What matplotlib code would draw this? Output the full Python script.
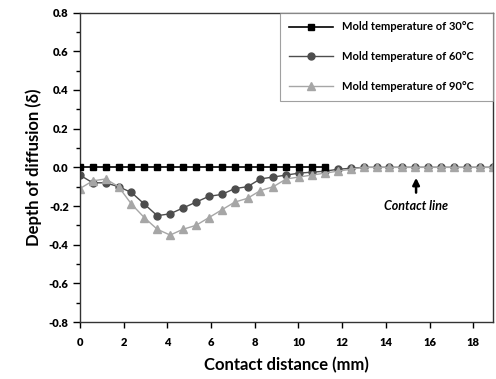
import matplotlib.pyplot as plt
from matplotlib.ticker import MultipleLocator, FormatStrFormatter

plt.rcParams['font.family'] = ['Lato', 'DejaVu Sans']

# contact distance (mm) of every measured point
dist = [0, 0.59, 1.18, 1.77, 2.36, 2.95, 3.54, 4.13, 4.72, 5.31, 5.9,
        6.49, 7.08, 7.67, 8.26, 8.85, 9.44, 10.03, 10.62, 11.21, 11.8,
        12.39, 12.98, 13.57, 14.16, 14.75, 15.34, 15.93, 16.52, 17.11,
        17.7, 18.29, 18.88]

# depth of diffusion for each mold temperature
t30 = [0, 0, 0, 0, 0, 0, 0, 0, 0, 0, 0, 0, 0, 0, 0, 0, 0, 0, 0, 0]
t60 = [-0.04, -0.08, -0.08, -0.10, -0.13, -0.19, -0.25, -0.24, -0.21,
       -0.18, -0.15, -0.14, -0.11, -0.10, -0.06, -0.05, -0.04, -0.03,
       -0.025, -0.02, -0.01, -0.005, 0, 0, 0, 0, 0, 0, 0, 0, 0, 0, 0]
t90 = [-0.11, -0.07, -0.06, -0.10, -0.19, -0.26, -0.32, -0.35, -0.32,
       -0.30, -0.26, -0.22, -0.18, -0.16, -0.12, -0.10, -0.06, -0.05,
       -0.04, -0.03, -0.02, -0.01, 0, 0, 0, 0, 0, 0, 0, 0, 0, 0, 0]

labels = ["Mold temperature of 30\u00b0C", "Mold temperature of 60\u00b0C",
          "Mold temperature of 90\u00b0C"]

fig = plt.figure(figsize=(4.96, 3.79), dpi=100)
ax = fig.add_axes([0.161, 0.150, 0.833, 0.817])

ax.plot(dist[:len(t30)], t30, color='black', marker='s', ms=4, lw=1.2, label=labels[0], zorder=3)
ax.plot(dist, t60, color='#4d4d4d', marker='o', ms=5, lw=1.0, label=labels[1], zorder=2)
ax.plot(dist, t90, color='#a6a6a6', marker='^', ms=5.5, lw=1.0, label=labels[2], zorder=2)

ax.set_xlim(0, 18.9)
ax.set_ylim(-0.8, 0.8)
ax.xaxis.set_major_locator(MultipleLocator(2))
ax.yaxis.set_major_locator(MultipleLocator(0.2))
ax.yaxis.set_minor_locator(MultipleLocator(0.1))
ax.yaxis.set_major_formatter(FormatStrFormatter('%.1f'))
ax.tick_params(axis='y', which='major', direction='out', length=5, width=1, pad=3)
ax.tick_params(axis='y', which='minor', direction='out', length=3, width=1)
ax.tick_params(axis='x', which='major', direction='out', length=4, width=1, pad=7)
for lab in ax.get_xticklabels() + ax.get_yticklabels():
    lab.set_fontweight('heavy')
    lab.set_fontsize(8)
for s in ax.spines.values():
    s.set_linewidth(1)
    s.set_color('#333333')

ax.set_xlabel("Contact distance (mm)", fontsize=12, fontweight='bold', labelpad=6)
ax.set_ylabel("Depth of diffusion (\u03b4)", fontsize=12, fontweight='bold', labelpad=5)

ax.annotate("", xy=(15.38, -0.04), xytext=(15.38, -0.145),
            arrowprops=dict(arrowstyle='-|>', color='black', lw=1.8, mutation_scale=10))
ax.text(15.4, -0.2, "Contact line", ha='center', va='center', fontsize=9,
        fontweight='bold', fontstyle='italic')

leg = ax.legend(loc='upper left', bbox_to_anchor=(0.484, 0.7, 0.516, 0.3), mode='expand',
                fontsize=8, numpoints=1, handlelength=4.0, handletextpad=0.8,
                labelspacing=1.7, borderpad=0.8, borderaxespad=0, fancybox=False,
                edgecolor='#888888')
leg.get_frame().set_linewidth(0.8)
for t in leg.get_texts():
    t.set_fontweight('bold')

fig.savefig("out.png", dpi=100)
